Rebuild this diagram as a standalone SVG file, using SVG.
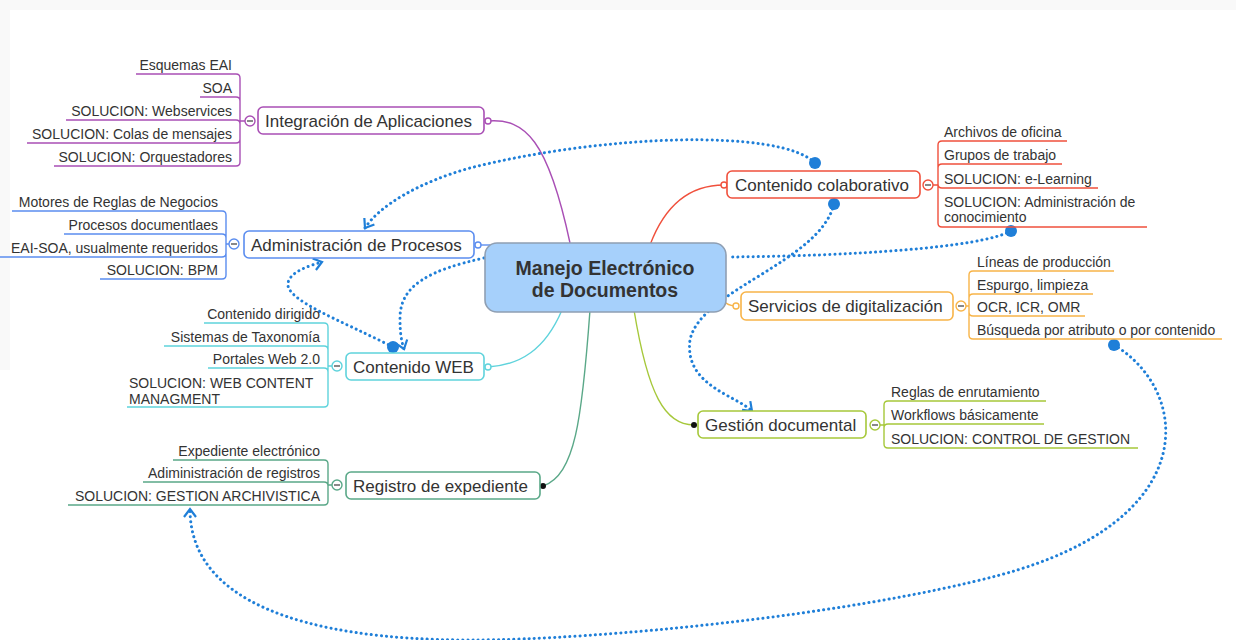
<svg xmlns="http://www.w3.org/2000/svg" width="1236" height="640" viewBox="0 0 1236 640">
<style>
.t{font-family:"Liberation Sans",Arial,sans-serif;fill:#333}
.leaf{font-size:14px}
.nt{font-size:17px}
.box{fill:#fff;stroke-width:1.6}
.ln{fill:none;stroke-width:1.4}
.rel{fill:none;stroke:#1f7fd8;stroke-width:3;stroke-dasharray:0.1 5;stroke-linecap:round}
.col{fill:#fff;stroke-width:1.4}
.purple{stroke:#a94fb5}.blue{stroke:#5b8def}.cyan{stroke:#5fd3dc}.green{stroke:#5aa888}
.red{stroke:#f0503c}.orange{stroke:#f8b448}.lime{stroke:#a6c83a}
</style>
<defs>
<marker id="dot" viewBox="-6 -6 12 12" markerWidth="12" markerHeight="12" markerUnits="userSpaceOnUse" refX="0" refY="0"><circle r="6" fill="#1f7fd8"/></marker>
<marker id="arr" viewBox="-10 -8 12 16" markerWidth="12" markerHeight="16" markerUnits="userSpaceOnUse" refX="0" refY="0" orient="auto"><path d="M-8,-6 L0,0 L-8,6" fill="none" stroke="#1f7fd8" stroke-width="2.2"/></marker>
</defs>
<rect width="1236" height="640" fill="#f9f9f9"/>
<rect x="10" y="10" width="1226" height="630" fill="#fff"/>
<rect x="0" y="370" width="10" height="270" fill="#fff"/>

<g id="connectors">
<path class="ln purple" d="M488 121 C525 118 548 140 570 243"/>
<path class="ln blue" d="M478 245 L490 245"/>
<path class="ln cyan" d="M488 367 C520 365 545 350 562 310"/>
<path class="ln green" d="M543 486 C575 475 582 420 590 310"/>
<path class="ln red" d="M724 185 C690 185 665 205 650 245"/>
<path class="ln orange" d="M736 306 C730 306 726 304 722 300"/>
<path class="ln lime" d="M694 425 C665 425 648 395 634 310"/>
<circle cx="488" cy="121" r="3" class="col purple"/>
<circle cx="478" cy="245" r="3" class="col blue"/>
<circle cx="488" cy="367" r="3" class="col cyan"/>
<circle cx="543" cy="486" r="3" fill="#111"/>
<circle cx="724" cy="185" r="3" class="col red"/>
<circle cx="736" cy="306" r="3" class="col orange"/>
<circle cx="694" cy="425" r="3" fill="#111"/>
<path class="rel" marker-start="url(#dot)" marker-end="url(#arr)" d="M815 163 C780 128 600 135 470 168 C420 182 380 205 365 228"/>
<path class="rel" marker-start="url(#dot)" marker-end="url(#arr)" d="M834 204 C820 262 700 290 690 340 C684 385 735 395 752 411"/>
<path class="rel" marker-start="url(#dot)" d="M1011 231 C980 248 850 256 728 257"/>
<path class="rel" marker-start="url(#dot)" marker-end="url(#arr)" d="M393 347 C340 320 285 300 288 283 C290 272 308 266 322 262"/>
<path class="rel" marker-end="url(#arr)" d="M484 258 C430 270 400 285 400 318 C400 332 401 340 404 349"/>
<path class="rel" marker-start="url(#dot)" marker-end="url(#arr)" d="M1114 345 C1190 390 1205 520 1000 575 C850 615 600 640 470 640 C300 640 190 600 190 509"/>
</g>

<g id="central">
<rect x="485" y="243" width="241" height="69" rx="12" fill="#a6d0fb" stroke="#8f9fb3" stroke-width="1.6"/>
<text class="t" x="605" y="275" text-anchor="middle" font-size="19.5" font-weight="bold" fill="#444">Manejo Electrónico</text>
<text class="t" x="605" y="297" text-anchor="middle" font-size="19.5" font-weight="bold" fill="#444">de Documentos</text>
</g>

<g id="integracion">
<rect class="box purple" x="258" y="107" width="226" height="27" rx="5"/>
<text class="t nt" x="265" y="127">Integración de Aplicaciones</text>
<path class="ln purple" d="M136 74 H236 Q240 74 240 78 V162 Q240 166 236 166 H54 M200 97 H236 Q240 97 240 101 M66 120 H236 Q240 120 240 124 M27 143 H236 Q240 143 240 139 M240 121 H245"/>
<circle cx="250" cy="121" r="5" class="col purple"/>
<path d="M247 121 H253" stroke="#555" stroke-width="1.4"/>
<g class="t leaf" text-anchor="end">
<text x="232" y="70">Esquemas EAI</text>
<text x="232" y="93">SOA</text>
<text x="232" y="116">SOLUCION: Webservices</text>
<text x="232" y="139">SOLUCION: Colas de mensajes</text>
<text x="232" y="162">SOLUCION: Orquestadores</text>
</g>
</g>

<g id="administracion">
<rect class="box blue" x="244" y="231" width="230" height="27" rx="5"/>
<text class="t nt" x="251" y="251">Administración de Procesos</text>
<path class="ln blue" d="M12 211 H222 Q226 211 226 215 V275 Q226 279 222 279 H100 M64 234 H222 Q226 234 226 238 M0 257 H222 Q226 257 226 253 M226 244 H229"/>
<circle cx="234" cy="244" r="5" class="col blue"/>
<path d="M231 244 H237" stroke="#555" stroke-width="1.4"/>
<g class="t leaf" text-anchor="end">
<text x="218" y="207">Motores de Reglas de Negocios</text>
<text x="218" y="230">Procesos documentlaes</text>
<text x="218" y="253">EAI-SOA, usualmente requeridos</text>
<text x="218" y="275">SOLUCION: BPM</text>
</g>
</g>

<g id="contenidoweb">
<rect class="box cyan" x="346" y="353" width="138" height="27" rx="5"/>
<text class="t nt" x="353" y="373">Contenido WEB</text>
<path class="ln cyan" d="M204 323 H324 Q328 323 328 327 V403 Q328 407 324 407 H127 M164 346 H324 Q328 346 328 350 M208 368 H324 Q328 368 328 372 M328 366 H332"/>
<circle cx="337" cy="366" r="5" class="col cyan"/>
<path d="M334 366 H340" stroke="#555" stroke-width="1.4"/>
<g class="t leaf">
<text x="320" y="319" text-anchor="end">Contenido dirigido</text>
<text x="320" y="342" text-anchor="end">Sistemas de Taxonomía</text>
<text x="320" y="364" text-anchor="end">Portales Web 2.0</text>
<text x="129" y="388">SOLUCION: WEB CONTENT</text>
<text x="129" y="404">MANAGMENT</text>
</g>
</g>

<g id="registro">
<rect class="box green" x="346" y="472" width="194" height="27" rx="5"/>
<text class="t nt" x="353" y="492">Registro de expediente</text>
<path class="ln green" d="M173 460 H324 Q328 460 328 464 V501 Q328 505 324 505 H68 M143 482 H324 Q328 482 328 486 M328 485 H332"/>
<circle cx="337" cy="485" r="5" class="col green"/>
<path d="M334 485 H340" stroke="#555" stroke-width="1.4"/>
<g class="t leaf" text-anchor="end">
<text x="320" y="456">Expediente electrónico</text>
<text x="320" y="478">Adiministración de registros</text>
<text x="320" y="501">SOLUCION: GESTION ARCHIVISTICA</text>
</g>
</g>

<g id="colaborativo">
<rect class="box red" x="727" y="171" width="193" height="27" rx="5"/>
<text class="t nt" x="735" y="191">Contenido colaborativo</text>
<path class="ln red" d="M1067 141 H942 Q938 141 938 145 V223 Q938 227 942 227 H1147 M1062 164 H942 Q938 164 938 168 M1098 188 H942 Q938 188 938 184 M938 185 H933"/>
<circle cx="928" cy="185" r="5" class="col red"/>
<path d="M925 185 H931" stroke="#555" stroke-width="1.4"/>
<g class="t leaf">
<text x="944" y="137">Archivos de oficina</text>
<text x="944" y="160">Grupos de trabajo</text>
<text x="944" y="184">SOLUCION: e-Learning</text>
<text x="944" y="207">SOLUCION: Administración de</text>
<text x="944" y="222">conocimiento</text>
</g>
</g>

<g id="digitalizacion">
<rect class="box orange" x="741" y="292" width="212" height="28" rx="5"/>
<text class="t nt" x="748" y="312">Servicios de digitalización</text>
<path class="ln orange" d="M1114 271 H973 Q969 271 969 275 V335 Q969 339 973 339 H1222 M1093 294 H973 Q969 294 969 298 M1085 316 H973 Q969 316 969 312 M969 306 H966"/>
<circle cx="961" cy="306" r="5" class="col orange"/>
<path d="M958 306 H964" stroke="#555" stroke-width="1.4"/>
<g class="t leaf">
<text x="977" y="267">Líneas de producción</text>
<text x="977" y="290">Espurgo, limpieza</text>
<text x="977" y="312">OCR, ICR, OMR</text>
<text x="977" y="335">Búsqueda por atributo o por contenido</text>
</g>
</g>

<g id="gestion">
<rect class="box lime" x="698" y="411" width="168" height="27" rx="5"/>
<text class="t nt" x="705" y="431">Gestión documental</text>
<path class="ln lime" d="M1046 401 H888 Q884 401 884 405 V444 Q884 448 888 448 H1138 M1044 424 H888 Q884 424 884 428 M884 425 H880"/>
<circle cx="875" cy="425" r="5" class="col lime"/>
<path d="M872 425 H878" stroke="#555" stroke-width="1.4"/>
<g class="t leaf">
<text x="891" y="397">Reglas de enrutamiento</text>
<text x="891" y="420">Workflows básicamente</text>
<text x="891" y="444">SOLUCION: CONTROL DE GESTION</text>
</g>
</g>
</svg>
